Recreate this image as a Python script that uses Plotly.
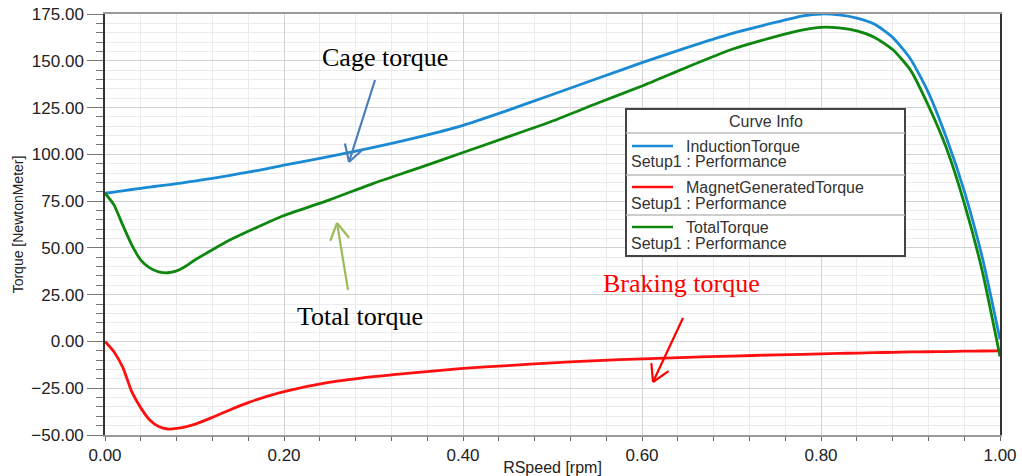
import math
import plotly.graph_objects as go

# ---------------- data ----------------
rspeed = [0.00, 0.01, 0.02, 0.03, 0.04, 0.05, 0.06, 0.07, 0.08, 0.09, 0.10,
          0.12, 0.14, 0.16, 0.18, 0.20, 0.25, 0.30, 0.35, 0.40, 0.45, 0.50,
          0.55, 0.60, 0.65, 0.70, 0.75, 0.78, 0.80, 0.82, 0.84, 0.86, 0.88,
          0.90, 0.92, 0.94, 0.96, 0.98, 1.00]

induction_torque = [79.2, 79.8, 80.5, 81.2, 81.8, 82.5, 83.1, 83.7, 84.3, 85.0, 85.7,
                    87.2, 88.8, 90.5, 92.2, 94.2, 98.8, 103.7, 109.2, 115.5, 123.5, 132.0,
                    140.5, 149.0, 157.0, 164.5, 170.6, 174.0, 175.0, 174.5, 172.8, 169.5, 162.5,
                    151.0, 133.0, 109.0, 80.5, 45.3, 1.0]

magnet_torque = [0.0, -5.5, -14.0, -27.0, -35.5, -42.0, -45.5, -46.8, -46.5, -45.6, -44.3,
                 -40.6, -36.5, -32.7, -29.5, -26.8, -21.9, -18.8, -16.5, -14.4, -12.9, -11.4,
                 -10.2, -9.3, -8.5, -7.8, -7.2, -6.9, -6.6, -6.4, -6.2, -6.0, -5.8,
                 -5.6, -5.5, -5.4, -5.2, -5.1, -5.0]

total_torque = [79.2, 73.0, 62.0, 51.5, 43.5, 39.3, 37.2, 36.7, 37.7, 40.2, 43.4,
                49.0, 54.3, 58.9, 63.2, 67.3, 75.5, 84.5, 92.6, 101.0, 109.3, 117.8,
                127.3, 136.5, 146.5, 156.0, 163.0, 166.5, 167.9, 167.6, 166.0, 162.5, 156.0,
                145.0, 126.0, 103.5, 74.0, 38.0, -8.0]

series_names = ["InductionTorque", "MagnetGeneratedTorque", "TotalTorque"]
series_values = [induction_torque, magnet_torque, total_torque]
series_colors = ["#1a8ad4", "#ff1010", "#0e870e"]
setup_label = "Setup1 : Performance"

x_ticks = [0.0, 0.2, 0.4, 0.6, 0.8, 1.0]
y_ticks = [-50, -25, 0, 25, 50, 75, 100, 125, 150, 175]

# ---------------- figure ----------------
W, H = 1022, 476
PL, PR, PT, PB = 105, 1000, 14, 435          # plot area in page pixels
ML, MR, MT, MB = PL, W - PR, PT, H - PB
PW, PH = PR - PL, PB - PT
X0, X1, Y0, Y1 = 0.0, 1.0, -50.0, 175.0

def px_x(p):
    return (p - PL) / PW

def px_y(p):
    return (PB - p) / PH

def dx(p):   # page pixel -> data x
    return X0 + px_x(p) * (X1 - X0)

def dy(p):   # page pixel -> data y
    return Y0 + px_y(p) * (Y1 - Y0)

fig = go.Figure()
for name, vals, col in zip(series_names, series_values, series_colors):
    fig.add_trace(go.Scatter(x=rspeed, y=vals, mode="lines", name=name,
                             line=dict(color=col, width=2.8, shape="spline", smoothing=0.6),
                             showlegend=False))

tickfont = dict(family="Liberation Sans, Arial", size=17, color="#222")
fig.update_xaxes(range=[X0, X1], tickvals=x_ticks, tickformat=".2f", tickfont=tickfont,
                 automargin=False, ticklabeloverflow="allow",
                 showgrid=True, gridcolor="#d2d2d2", gridwidth=1,
                 showline=True, linecolor="#9a9a9a", linewidth=2, mirror=True,
                 ticks="outside", ticklen=4, tickcolor="#666",
                 minor=dict(dtick=0.04, showgrid=True, gridcolor="#ebebeb", ticks="outside",
                            ticklen=4, tickcolor="#666"),
                 zeroline=False,
                 title=dict(text="RSpeed [rpm]", font=dict(family="Liberation Sans, Arial", size=16, color="#222"),
                            standoff=0))
fig.update_yaxes(range=[Y0, Y1], tickvals=y_ticks, tickformat=".2f", tickfont=tickfont,
                 automargin=False, ticklabeloverflow="allow",
                 showgrid=True, gridcolor="#d2d2d2", gridwidth=1,
                 showline=True, linecolor="#333", linewidth=1.5, mirror=True,
                 ticks="outside", ticklen=16, tickcolor="#777",
                 minor=dict(dtick=5, showgrid=True, gridcolor="#ebebeb", ticks="outside",
                            ticklen=7, tickcolor="#777"),
                 zeroline=False,
                 title=dict(text="Torque [NewtonMeter]", font=dict(family="Liberation Sans, Arial", size=14, color="#222"),
                            standoff=4))

# ---------------- hand-written annotations with arrows ----------------
serif = "Liberation Serif, Times New Roman"
texts = [("Cage torque", 385, 57, "black"),
         ("Total torque", 360, 316, "black"),
         ("Braking torque", 681, 283, "#ff0000")]
for txt, tx, ty, col in texts:
    fig.add_annotation(x=dx(tx), y=dy(ty), text=txt, showarrow=False,
                       font=dict(family=serif, size=26, color=col))

# arrows as (head px, head py, tail px, tail py, colour), drawn with open "V" heads
arrows = [
    (349, 162, 375, 80, "#4a7ebb"),
    (337, 223, 348, 290, "#9bbb59"),
    (653, 382, 683, 318, "#ff0000"),
]
WING, ANG = 19, math.radians(30)
for hx, hy, tx, ty, col in arrows:
    fig.add_shape(type="line", xref="x", yref="y", x0=dx(tx), y0=dy(ty), x1=dx(hx), y1=dy(hy),
                  line=dict(color=col, width=2.2))
    ux, uy = tx - hx, ty - hy
    n = math.hypot(ux, uy)
    ux, uy = ux / n, uy / n
    for s in (-1, 1):
        c, si = math.cos(s * ANG), math.sin(s * ANG)
        wx = hx + WING * (ux * c - uy * si)
        wy = hy + WING * (ux * si + uy * c)
        fig.add_shape(type="line", xref="x", yref="y", x0=dx(hx), y0=dy(hy), x1=dx(wx), y1=dy(wy),
                      line=dict(color=col, width=2.2))

# ---------------- "Curve Info" legend box ----------------
lx0, lx1 = px_x(626), px_x(905)
ly_top, ly_bot = px_y(109), px_y(256)
fig.add_shape(type="rect", xref="paper", yref="paper", x0=lx0, x1=lx1, y0=ly_bot, y1=ly_top,
              fillcolor="white", line=dict(color="#444", width=2), layer="above")
for sep in [133, 175, 215]:
    fig.add_shape(type="line", xref="paper", yref="paper", x0=lx0, x1=lx1,
                  y0=px_y(sep), y1=px_y(sep), line=dict(color="#bdbdbd", width=1.5), layer="above")

legfont = dict(family="Liberation Sans, Arial", size=16, color="#333")
fig.add_annotation(xref="paper", yref="paper", x=(lx0 + lx1) / 2, y=px_y(122), text="Curve Info",
                   showarrow=False, font=legfont, xanchor="center", yanchor="middle")
row_y = [146, 187, 227]
for name, col, ry in zip(series_names, series_colors, row_y):
    fig.add_shape(type="line", xref="paper", yref="paper", x0=px_x(632), x1=px_x(673),
                  y0=px_y(ry), y1=px_y(ry), line=dict(color=col, width=2.5), layer="above")
    fig.add_annotation(xref="paper", yref="paper", x=px_x(684), y=px_y(ry), text=name,
                       showarrow=False, font=legfont, xanchor="left", yanchor="middle")
    fig.add_annotation(xref="paper", yref="paper", x=px_x(629), y=px_y(ry + 16), text=setup_label,
                       showarrow=False, font=legfont, xanchor="left", yanchor="middle")

fig.update_layout(width=W, height=H, margin=dict(l=ML, r=MR, t=MT, b=MB),
                  paper_bgcolor="white", plot_bgcolor="white", showlegend=False)

# remove the page's default 8px body margin so the figure sits at the window's corner
fig.write_html("out.html", config={"displayModeBar": False},
               post_script="document.body.style.margin='0px';")
